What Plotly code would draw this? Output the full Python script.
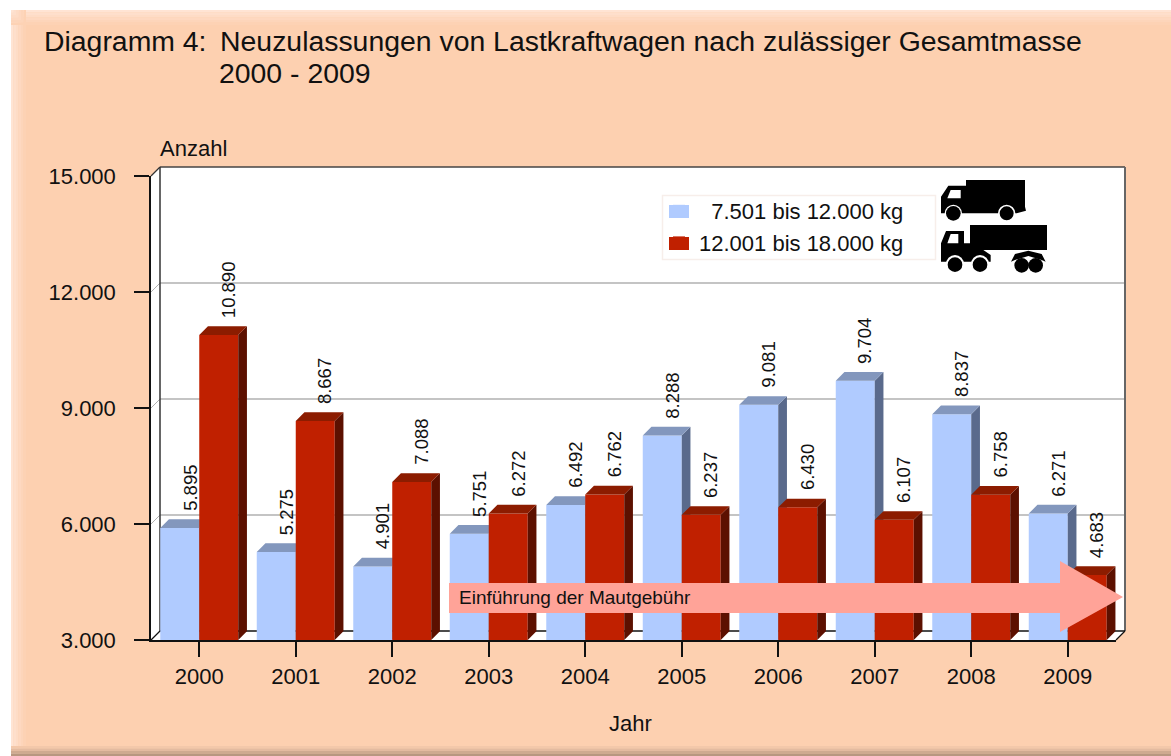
import plotly.graph_objects as go

years = [2000, 2001, 2002, 2003, 2004, 2005, 2006, 2007, 2008, 2009]
light = [5895, 5275, 4901, 5751, 6492, 8288, 9081, 9704, 8837, 6271]
heavy = [10890, 8667, 7088, 6272, 6762, 6237, 6430, 6107, 6758, 4683]
light_name = "\u00a0\u00a07.501 bis 12.000 kg"
heavy_name = "12.001 bis 18.000 kg"
y_ticks = [3000, 6000, 9000, 12000, 15000]
y_labels = ["3.000", "6.000", "9.000", "12.000", "15.000"]

W, H = 1171, 756
X0, X1, Y0, Y1 = 151, 1116, 640, 176
DEPTH = 9
BAR_DEPTH = 8.7
BAR_W = 0.404
FONT = "Liberation Sans, Arial, sans-serif"
BLUE, RED = "#B0CBFF", "#C02000"


def px(x):
    return x / W


def py(y):
    return 1 - y / H


def path(points):
    return "M" + "L".join(f"{px(x):.5f},{py(y):.5f}" for x, y in points) + "Z"


def fmt(v):
    return f"{v:,}".replace(",", ".")


def rect(x0, y0, x1, y1, color, layer="below", **kw):
    d = dict(type="rect", xref="paper", yref="paper", x0=px(x0), x1=px(x1), y0=py(y0), y1=py(y1),
             fillcolor=color, line_width=0, layer=layer)
    d.update(kw)
    return d


def poly(points, color, layer="below"):
    return dict(type="path", xref="paper", yref="paper", path=path(points), fillcolor=color, line_width=0, layer=layer)


def seg(x0, y0, x1, y1, color, width=1.5):
    return dict(type="line", xref="paper", yref="paper", x0=px(x0), x1=px(x1), y0=py(y0), y1=py(y1),
                line=dict(color=color, width=width), layer="below")


def disc(cx, cy, r, color):
    return dict(type="circle", xref="paper", yref="paper", x0=px(cx - r), x1=px(cx + r),
                y0=py(cy - r), y1=py(cy + r), fillcolor=color, line_width=0, layer="above")


def depth_polys(values, left_off, right_off):
    dx = BAR_DEPTH / ((X1 - X0) / 10)
    dy = BAR_DEPTH / (Y0 - Y1) * (y_ticks[-1] - y_ticks[0])
    floor = y_ticks[0]
    sx, sy, tx, ty = [], [], [], []
    for yr, v in zip(years, values):
        L, R = yr + left_off, yr + right_off
        sx += [R, R + dx, R + dx, R, R, None]
        sy += [floor, floor + dy, v + dy, v, floor, None]
        tx += [L, L + dx, R + dx, R, L, None]
        ty += [v, v + dy, v + dy, v, v, None]
    return sx, sy, tx, ty


fig = go.Figure()


def add_series(values, name, front, side, top, offset, xa, ya):
    sx, sy, tx, ty = depth_polys(values, offset, offset + BAR_W)
    fig.add_trace(go.Bar(x=years, y=values, name=name, width=BAR_W, offset=offset, marker=dict(color=front, line_width=0),
                         xaxis=xa, yaxis=ya, hoverinfo="x+y"))
    for xs, ys, c in ((sx, sy, side), (tx, ty, top)):
        fig.add_trace(go.Scatter(x=xs, y=ys, mode="lines", fill="toself", fillcolor=c, line=dict(width=0, color=c),
                                 showlegend=False, hoverinfo="skip", xaxis=xa, yaxis=ya))


add_series(light, light_name, BLUE, "#5A6A8C", "#8397BD", -BAR_W, "x", "y")
add_series(heavy, heavy_name, RED, "#5C1000", "#8C1C00", 0, "x2", "y2")

shapes = [rect(11, 10, W, H, "#FDD0B0")]
for i, c in enumerate(["#FFE4D4", "#FEDFCC", "#FEDCC6", "#FED8C0", "#FDD5BA", "#FDD2B4"]):
    shapes.append(rect(11, 10 + i * 2.5, W, 10 + (i + 1) * 2.5, c))
    shapes.append(rect(11 + i * 2.5, 10, 11 + (i + 1) * 2.5, H, c))
for i, c in enumerate(["#F3C8AA", "#E4BBA0", "#CFAA90", "#B89780"]):
    shapes.append(rect(11, 746 + i * 2.5, W, 746 + (i + 1) * 2.5, c))

wx0, wx1, wy0, wy1 = X0 + DEPTH, X1 + DEPTH, Y0 - DEPTH, Y1 - DEPTH
shapes.append(rect(wx0, wy1, wx1, wy0, "white"))
shapes.append(poly([(X0, Y1), (wx0, wy1), (wx0, wy0), (X0, Y0)], "white"))
shapes.append(poly([(X0, Y0), (wx0, wy0), (wx1, wy0), (X1, Y0)], "white"))
span = y_ticks[-1] - y_ticks[0]
for t in y_ticks[1:-1]:
    yp = Y0 - (t - y_ticks[0]) / span * (Y0 - Y1)
    shapes.append(seg(wx0, yp - DEPTH, wx1, yp - DEPTH, "#B0B0B0", 1.3))
    shapes.append(seg(X0, yp, wx0, yp - DEPTH, "#B0B0B0", 1))
shapes.append(seg(wx0, wy1, wx1, wy1, "#444444", 1.5))
shapes.append(seg(wx1, wy1, wx1, wy0, "#666666", 2))
shapes.append(seg(wx0, wy1, wx0, wy0, "#333333", 1.5))
shapes.append(seg(wx0, wy0, wx1, wy0, "#111111", 1.5))
shapes.append(seg(X0, Y1, wx0, wy1, "#333333", 1.2))
shapes.append(seg(X0, Y0, wx0, wy0, "#111111", 1.2))
shapes.append(seg(X1, Y0, wx1, wy0, "#111111", 1.2))

shapes.append(rect(662.5, 195.5, 935.5, 259.5, "white", line=dict(color="#F7EEEA", width=1.5), line_width=1.5))
shapes.append(rect(669, 205, 689, 218, BLUE))
shapes.append(rect(669, 237, 689, 250, RED))

shapes.append(poly([(449, 583), (1060, 583), (1060, 561), (1123, 597), (1060, 632), (1060, 613), (449, 613)],
                   "#FFA398", "above"))


def z(pts):
    return [(640 + x / 3, 160 + y / 3) for x, y in pts]


def zdisc(cx, cy, r, color):
    return disc(640 + cx / 3, 160 + cy / 3, r / 3, color)


shapes += [
    poly(z([(903, 110), (925, 77), (978, 77), (978, 60), (1155, 60), (1155, 140), (1158, 152), (1130, 160),
            (903, 160)]), "black", "above"),
    poly(z([(922, 115), (932, 90), (962, 90), (962, 115)]), "white", "above"),
    zdisc(940, 160, 26, "white"), zdisc(1100, 160, 26, "white"),
    zdisc(940, 160, 22, "black"), zdisc(1100, 160, 21, "black"),
    poly(z([(903, 250), (918, 213), (972, 213), (972, 250), (990, 250), (990, 195), (1221, 195), (1221, 270),
            (1030, 270), (1052, 285), (1052, 305), (903, 305)]), "black", "above"),
    poly(z([(922, 250), (932, 222), (955, 222), (955, 250)]), "white", "above"),
    zdisc(945, 312, 27, "white"), zdisc(1020, 312, 27, "white"),
    zdisc(945, 314, 22, "black"), zdisc(1020, 314, 22, "black"),
    poly(z([(1113, 305), (1125, 282), (1165, 272), (1205, 282), (1217, 305), (1205, 300), (1165, 288), (1125, 300)]),
         "black", "above"),
    zdisc(1145, 316, 22, "black"), zdisc(1187, 316, 22, "black"),
]

ann = []
for yr, v in zip(years, light):
    ann.append(dict(x=yr - BAR_W / 2, y=v, xref="x", yref="y", text=fmt(v), showarrow=False, textangle=-90,
                    xanchor="center", yanchor="bottom", xshift=10, yshift=15, font=dict(size=18.5, color="#111111")))
for yr, v in zip(years, heavy):
    ann.append(dict(x=yr + BAR_W / 2, y=v, xref="x", yref="y", text=fmt(v), showarrow=False, textangle=-90,
                    xanchor="center", yanchor="bottom", xshift=10, yshift=15, font=dict(size=18.5, color="#111111")))
ann.append(dict(x=px(158), y=py(148), xref="paper", yref="paper", text="Anzahl", showarrow=False, xanchor="left",
                yanchor="middle", font=dict(size=22, color="#111111")))
ann.append(dict(x=px(457), y=py(597), xref="paper", yref="paper", text="Einführung der Mautgebühr", showarrow=False,
                xanchor="left", yanchor="middle", font=dict(size=19, color="#111111")))
ann.append(dict(x=px(630), y=py(723), xref="paper", yref="paper", text="Jahr", showarrow=False, xanchor="center",
                yanchor="middle", font=dict(size=22, color="#111111")))
ann.append(dict(x=px(217), y=py(73), xref="paper", yref="paper", text="2000 - 2009", showarrow=False, xanchor="left",
                yanchor="middle", font=dict(size=28.4, color="#111111")))

fig.update_layout(
    width=W, height=H, margin=dict(l=0, r=0, t=0, b=0, pad=0), autosize=False,
    paper_bgcolor="white", plot_bgcolor="rgba(0,0,0,0)",
    font=dict(family=FONT, color="#111111", size=22),
    title=dict(text="Diagramm 4: \u2009Neuzulassungen von Lastkraftwagen nach zulässiger Gesamtmasse",
               x=px(44), xanchor="left", xref="paper", y=py(41), yanchor="middle", yref="container", automargin=False,
               font=dict(size=28.4, color="#111111")),
    barmode="overlay", showlegend=True,
    legend=dict(x=px(659), y=py(190), xanchor="left", yanchor="top", bgcolor="rgba(0,0,0,0)",
                borderwidth=0, font=dict(size=22, color="#111111"), itemclick=False, itemdoubleclick=False,
                traceorder="normal", itemwidth=30),
    xaxis=dict(domain=[px(X0), px(X1)], range=[1999.5, 2009.5], tickmode="array", tickvals=years, automargin=False,
               ticktext=[str(y) for y in years], ticks="outside", ticklen=15, tickwidth=1.5, tickcolor="#111111",
               showline=True, linecolor="#111111", linewidth=1.5, showgrid=False, zeroline=False, ticklabelstandoff=1),
    yaxis=dict(domain=[py(Y0), py(Y1)], range=[y_ticks[0], y_ticks[-1]], tickmode="array", tickvals=y_ticks, automargin=False,
               ticktext=y_labels, ticks="outside", ticklen=15, tickwidth=1.5, tickcolor="#111111",
               showline=True, linecolor="#111111", linewidth=1.5, showgrid=False, zeroline=False, ticklabelstandoff=14),
    xaxis2=dict(overlaying="x", matches="x", visible=False, automargin=False),
    yaxis2=dict(overlaying="y", matches="y", visible=False, automargin=False),
    shapes=shapes, annotations=ann,
)
fig.write_html("out.html", post_script="document.body.style.margin='0';document.body.style.overflow='hidden';",
               config=dict(displayModeBar=False))
